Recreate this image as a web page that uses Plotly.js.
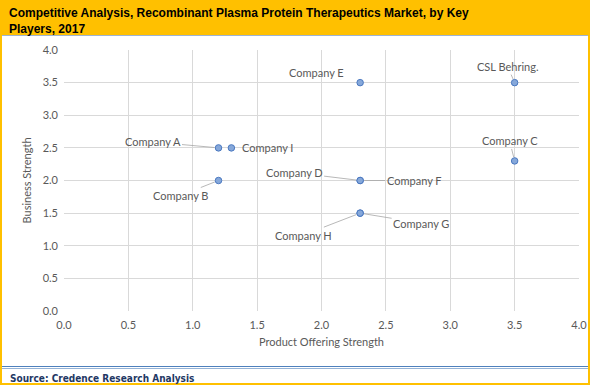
<!DOCTYPE html>
<html>
<head>
<meta charset="utf-8">
<script src="https://cdn.plot.ly/plotly-3.0.1.min.js"></script>
<style>
  html, body { margin: 0; padding: 0; background: #ffffff; }
  #wrap { position: relative; width: 590px; height: 385px; overflow: hidden; background: #ffffff; }
  #header { position: absolute; left: 0; top: 0; width: 590px; height: 35px; background: #FFC000; border-bottom: 1px solid #9DB3D3; }
  #bl { position: absolute; left: 0; top: 0; width: 2px; height: 385px; background: #FFC000; }
  #br { position: absolute; right: 0; top: 0; width: 2px; height: 385px; background: #FFC000; }
  #bb { position: absolute; left: 0; bottom: 0; width: 590px; height: 2px; background: #FFC000; }
  #fline1 { position: absolute; left: 2px; top: 366px; width: 586px; height: 1px; background: #4F81BD; }
  #fline2 { position: absolute; left: 2px; top: 368px; width: 586px; height: 1px; background: #95B3D7; }
  #chart { position: absolute; left: 0; top: 0; width: 590px; height: 385px; }
</style>
</head>
<body>
<div id="wrap">
  <div id="header"></div>
  <div id="bl"></div>
  <div id="br"></div>
  <div id="bb"></div>
  <div id="fline1"></div>
  <div id="fline2"></div>
  <div id="chart"></div>
</div>
<script>
// ---- data ----
var companies = ['CSL Behring.', 'Company A', 'Company B', 'Company C', 'Company D',
                 'Company E', 'Company F', 'Company G', 'Company H', 'Company I'];
var productOffering = [3.5, 1.2, 1.2, 3.5, 2.3, 2.3, 2.3, 2.3, 2.3, 1.3];
var businessStrength = [3.5, 2.5, 2.0, 2.3, 2.0, 3.5, 2.0, 1.5, 1.5, 2.5];
var xTickVals = [0, 0.5, 1, 1.5, 2, 2.5, 3, 3.5, 4];
var yTickVals = [0, 0.5, 1, 1.5, 2, 2.5, 3, 3.5, 4];
var titleText = 'Competitive Analysis, Recombinant Plasma Protein Therapeutics Market, by Key<br>Players, 2017';
var xTitle = 'Product Offering Strength';
var yTitle = 'Business Strength';
var sourceText = 'Source: Credence Research Analysis';

// ---- label placement (style only) ----
var labelStyle = {
  'CSL Behring.': {ax: -7, ay: -16, line: true},
  'Company A': {ax: -66, ay: -6, line: true},
  'Company B': {ax: -38, ay: 15, line: true},
  'Company C': {ax: -5, ay: -20, line: true},
  'Company D': {ax: -66, ay: -8, line: true},
  'Company E': {ax: -44, ay: -10, line: false},
  'Company F': {ax: 54, ay: 0, line: true},
  'Company G': {ax: 61, ay: 10, line: true},
  'Company H': {ax: -57, ay: 22, line: true},
  'Company I': {ax: 36, ay: 0, line: false}
};

var labelFont = {family: 'Lato, "Open Sans", sans-serif', size: 11, color: '#595959'};

var annotations = companies.map(function (c, i) {
  var s = labelStyle[c];
  if (s.line) {
    return {
      x: productOffering[i], y: businessStrength[i], xref: 'x', yref: 'y',
      text: c, showarrow: true, arrowhead: 0, arrowwidth: 0.8, arrowcolor: '#A6A6A6',
      ax: s.ax, ay: s.ay, standoff: 4, font: labelFont
    };
  }
  return {
    x: productOffering[i], y: businessStrength[i], xref: 'x', yref: 'y',
    text: c, showarrow: false, xshift: s.ax, yshift: -s.ay, font: labelFont
  };
});

// source line in the footer
annotations.push({
  xref: 'paper', yref: 'paper', x: -0.108, y: -0.258, xanchor: 'left', yanchor: 'middle',
  text: '<b>' + sourceText + '</b>', showarrow: false,
  font: {family: '"DejaVu Sans Condensed", "DejaVu Sans", sans-serif', size: 10, color: '#1F3864'}
});

var trace = {
  type: 'scatter', mode: 'markers',
  x: productOffering, y: businessStrength, text: companies,
  marker: {size: 6.5, color: '#86A8DA', line: {color: '#4A78C0', width: 1}},
  hoverinfo: 'text+x+y', cliponaxis: false
};

var axisCommon = {
  showgrid: true, gridcolor: '#D9D9D9', gridwidth: 1, zeroline: false,
  showline: false, ticks: '', tickformat: '.1f',
  tickfont: {family: 'Lato, "Open Sans", sans-serif', size: 11, color: '#595959'},
  fixedrange: true
};

var layout = {
  width: 590, height: 385,
  paper_bgcolor: 'rgba(0,0,0,0)', plot_bgcolor: 'rgba(0,0,0,0)',
  margin: {l: 64, r: 11, t: 50, b: 74},
  showlegend: false,
  title: {
    text: '<b>' + titleText + '</b>',
    xref: 'container', yref: 'container', x: 9 / 590, xanchor: 'left',
    y: 1 - 17 / 385, yanchor: 'top',
    font: {family: '"Liberation Sans Narrow", "Arial Narrow", "Liberation Sans", Arial, sans-serif', size: 12, color: '#000000'}
  },
  xaxis: Object.assign({}, axisCommon, {
    range: [0, 4], tickvals: xTickVals, ticklabelstandoff: 6,
    title: {text: xTitle, standoff: 8, font: {family: 'Lato, "Open Sans", sans-serif', size: 11, color: '#595959'}}
  }),
  yaxis: Object.assign({}, axisCommon, {
    range: [0, 4], tickvals: yTickVals, ticklabelstandoff: 5,
    title: {text: yTitle, standoff: 8, font: {family: 'Lato, "Open Sans", sans-serif', size: 11, color: '#595959'}}
  }),
  annotations: annotations
};

Plotly.newPlot('chart', [trace], layout, {displayModeBar: false, staticPlot: true});
</script>
</body>
</html>
